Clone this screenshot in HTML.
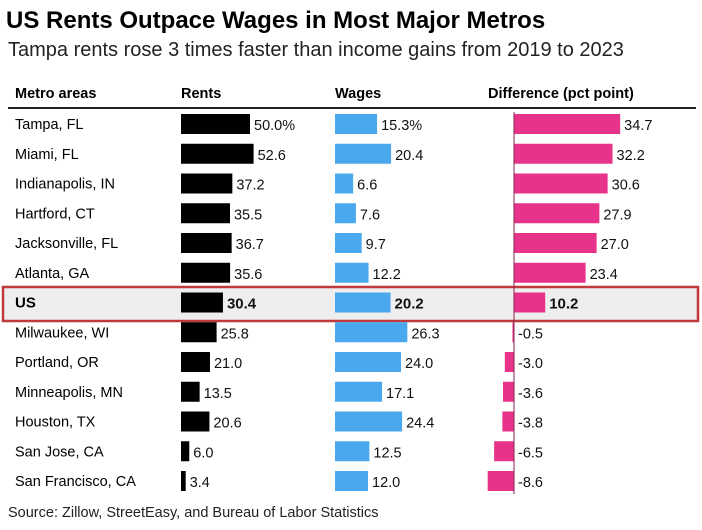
<!DOCTYPE html>
<html><head><meta charset="utf-8"><style>
body{margin:0;background:#fff;font-family:"Liberation Sans",Arial,sans-serif;}
svg text{font-family:"Liberation Sans",Arial,sans-serif;}
</style></head><body>
<svg id="c" width="702" height="525" xmlns="http://www.w3.org/2000/svg">
<text x="6" y="28" font-size="24" font-weight="bold" fill="#000">US Rents Outpace Wages in Most Major Metros</text>
<text x="8" y="56" font-size="20" fill="#222">Tampa rents rose 3 times faster than income gains from 2019 to 2023</text>
<rect x="3" y="287" width="695" height="34" fill="#eeeeee" stroke="#c0393b" stroke-width="2.5"/>
<text x="15" y="98" font-size="14.5" font-weight="bold">Metro areas</text>
<text x="181" y="98" font-size="14.5" font-weight="bold">Rents</text>
<text x="335" y="98" font-size="14.5" font-weight="bold">Wages</text>
<text x="488" y="98" font-size="14.5" font-weight="bold">Difference (pct point)</text>
<line x1="8" y1="108" x2="696" y2="108" stroke="#222" stroke-width="2"/>
<g id="rows"></g>
<text x="8" y="517" font-size="14.5" fill="#222">Source: Zillow, StreetEasy, and Bureau of Labor Statistics</text>
</svg>
<script>
const metros=["Tampa, FL","Miami, FL","Indianapolis, IN","Hartford, CT","Jacksonville, FL","Atlanta, GA","US","Milwaukee, WI","Portland, OR","Minneapolis, MN","Houston, TX","San Jose, CA","San Francisco, CA"];
const rents=[50.0,52.6,37.2,35.5,36.7,35.6,30.4,25.8,21.0,13.5,20.6,6.0,3.4];
const wages=[15.3,20.4,6.6,7.6,9.7,12.2,20.2,26.3,24.0,17.1,24.4,12.5,12.0];
const diffs=[34.7,32.2,30.6,27.9,27.0,23.4,10.2,-0.5,-3.0,-3.6,-3.8,-6.5,-8.6];
const NS="http://www.w3.org/2000/svg";
const g=document.getElementById('rows');
const rowY=i=>124+i*29.75;
const rx=v=>181+v*1.38, wx=v=>335+v*2.75, dx=v=>514+v*3.06;
function mk(tag,attrs){const e=document.createElementNS(NS,tag);for(const k in attrs)e.setAttribute(k,attrs[k]);g.appendChild(e);return e;}
function fmt(v,i){return i===0?v.toFixed(1)+'%':v.toFixed(1);}
metros.forEach((m,i)=>{
  const y=rowY(i), us=m==="US", fw=us?"bold":"normal", fs=us?15:14.5;
  let t=mk('text',{x:15,y:y+5,'font-size':fs,'font-weight':fw});t.textContent=m;
  
  
  let b=mk('rect',{x:rx(0),y:y-10,width:rx(rents[i])-rx(0),height:20,fill:'#000'});
  
  
  t=mk('text',{x:rx(rents[i])+4,y:y+6,'font-size':fs,'font-weight':fw,fill:'#111'});t.textContent=fmt(rents[i],i);
  
  
  b=mk('rect',{x:wx(0),y:y-10,width:wx(wages[i])-wx(0),height:20,fill:'#4aa8ee'});
  
  
  t=mk('text',{x:wx(wages[i])+4,y:y+6,'font-size':fs,'font-weight':fw,fill:'#111'});t.textContent=(i===0?wages[i].toFixed(1)+'%':wages[i].toFixed(1));
  
  
  const d=diffs[i];
  b=mk('rect',{x:Math.min(dx(0),dx(d)),y:y-10,width:Math.max(1.5,Math.abs(dx(d)-dx(0))),height:20,fill:'#e8338a'});
  
  
  t=mk('text',{x:(d>=0?dx(d):dx(0))+4,y:y+6,'font-size':fs,'font-weight':fw,fill:'#111'});t.textContent=d.toFixed(1);
  
  
});
const z=mk('line',{x1:dx(0),y1:112,x2:dx(0),y2:494,stroke:'#8a2050','stroke-width':1});


</script>
</body></html>
